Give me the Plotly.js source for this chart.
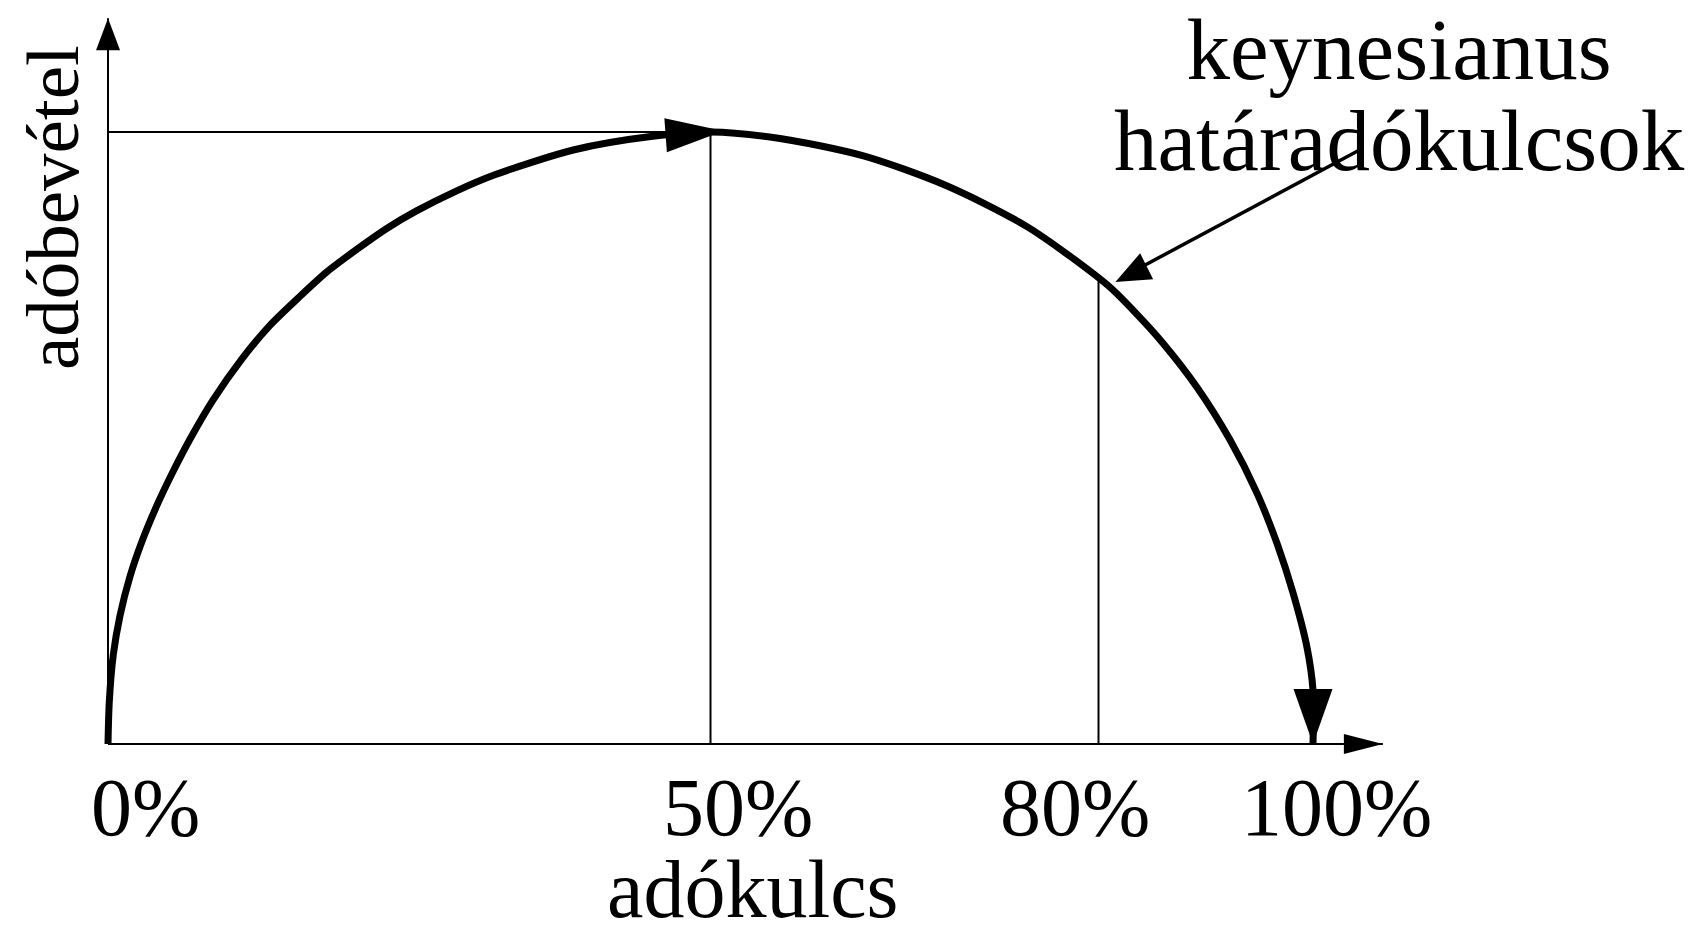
<!DOCTYPE html>
<html>
<head>
<meta charset="utf-8">
<script src="https://cdn.plot.ly/plotly-3.0.1.min.js"></script>
<style>html,body{margin:0;padding:0;overflow:hidden;background:#fff}</style>
</head>
<body>
<div id="chart" style="width:1707px;height:934px"></div>
<script>
// ---- data (tax rate %, tax revenue index) ----
const taxRate = [0, 0.11, 0.44, 1.0, 1.83, 2.8, 4.04, 5.42, 6.8, 8.71, 11.1, 13.44, 15.8, 18.2, 20.7, 23.1, 25.6, 28.85, 32.1, 38.7, 45.2, 50,
                 55.9, 62.7, 69.5, 76.3, 83.0, 85.06, 87.55, 90.37, 93.11, 95.35, 97.01, 98.34, 99.5, 100, 100];
const revenue = [0, 7.0, 14.6, 21.0, 27.4, 33.0, 38.9, 44.6, 49.8, 56.2, 62.9, 68.4, 72.9, 77.2, 80.9, 84.2, 87.1, 90.3, 93.0, 97.1, 99.3, 100,
                 98.9, 96.1, 91.3, 84.5, 74.9, 70.9, 65.5, 58.3, 49.7, 41.0, 32.8, 24.7, 15.8, 8.8, 0];
const peakPoint = [50, 100];          // revenue-maximising rate
const keynesPoint = [82.2, 75.6];     // keynesian marginal rate on the curve
const tickLabels = ['0%', '50%', '80%', '100%'];
const xTitle = 'adókulcs';
const yTitle = 'adóbevétel';
const noteLines = ['keynesianus', 'határadókulcsok'];

// ---- layout geometry ----
const W = 1707, H = 934;
const xRange = [-8.963, 132.697];
const yRange = [-31.046, 121.569];
const kx = W / (xRange[1] - xRange[0]);
const ky = H / (yRange[1] - yRange[0]);
const axisTip = {x: 105.8, y: 118.6};
const noteTail = [103.9, 97.1];
const tickLabelPx = [145, 738, 1075, 1336];
const tickLabelPy = 807;
const FONT = "'Liberation Serif', 'Times New Roman', serif";

function arrowHead(xd, yd, dx, dy, len, wid, adv) {
  let ux = dx * kx, uy = dy * ky;
  const n = Math.hypot(ux, uy); ux /= n; uy /= n;
  const a = adv || 0;
  const tx = a * ux, ty = a * uy;
  const bx = tx - len * ux, by = ty - len * uy;
  const px = -uy * wid / 2, py = ux * wid / 2;
  const f = v => v.toFixed(2);
  return {
    type: 'path', xref: 'x', yref: 'y', xsizemode: 'pixel', ysizemode: 'pixel',
    xanchor: xd, yanchor: yd,
    path: `M${f(tx)},${f(ty)} L${f(bx + px)},${f(by + py)} L${f(bx - px)},${f(by - py)} Z`,
    fillcolor: '#000', line: {width: 0}, layer: 'above'
  };
}

const thin = {color: '#000', width: 2};
const pk = taxRate.indexOf(peakPoint[0]);
const last = taxRate.length - 1;

const shapes = [
  // axes
  {type: 'line', x0: 0, y0: 0, x1: axisTip.x, y1: 0, line: thin},
  {type: 'line', x0: 0, y0: 0, x1: 0, y1: axisTip.y, line: thin},
  arrowHead(axisTip.x, 0, 1, 0, 39, 20),
  arrowHead(0, axisTip.y, 0, 1, 32, 24),
  // guide lines
  {type: 'line', x0: 0, y0: peakPoint[1], x1: peakPoint[0], y1: peakPoint[1], line: thin},
  {type: 'line', x0: peakPoint[0], y0: 0, x1: peakPoint[0], y1: peakPoint[1], line: thin},
  {type: 'line', x0: keynesPoint[0], y0: 0, x1: keynesPoint[0], y1: keynesPoint[1], line: thin},
  // curve arrowheads
  arrowHead(taxRate[pk], revenue[pk], taxRate[pk] - taxRate[pk - 1], revenue[pk] - revenue[pk - 1], 58, 34, 13),
  arrowHead(taxRate[last], revenue[last], taxRate[last] - taxRate[last - 1], revenue[last] - revenue[last - 1], 55, 39),
  // pointer to keynesian rate
  {type: 'line', x0: noteTail[0], y0: noteTail[1], x1: keynesPoint[0] + 2.2, y1: keynesPoint[1] + 0.9, line: {color: '#000', width: 3.5}},
  arrowHead(keynesPoint[0] + 1.4, keynesPoint[1] - 0.1, keynesPoint[0] - noteTail[0], keynesPoint[1] - noteTail[1], 35, 29)
];

const ann = [];
tickLabels.forEach((t, i) => ann.push({
  text: t, xref: 'paper', yref: 'paper', x: tickLabelPx[i] / W, y: 1 - tickLabelPy / H,
  xanchor: 'center', yanchor: 'middle', showarrow: false, font: {family: FONT, size: 82, color: '#000'}
}));
ann.push({text: xTitle, xref: 'paper', yref: 'paper', x: 752 / W, y: 1 - 889 / H,
  xanchor: 'center', yanchor: 'middle', showarrow: false, font: {family: FONT, size: 82, color: '#000'}});
ann.push({text: yTitle, xref: 'paper', yref: 'paper', x: 52 / W, y: 1 - 208 / H, textangle: -90,
  xanchor: 'center', yanchor: 'middle', showarrow: false, font: {family: FONT, size: 75, color: '#000'}});
ann.push({
  text: noteLines.map(l => '<span style="font-size:87px">' + l + '</span>').join('<br>'),
  xref: 'paper', yref: 'paper', x: 1399 / W, y: 1, align: 'center', borderpad: 0,
  xanchor: 'center', yanchor: 'top', showarrow: false, font: {family: FONT, size: 70, color: '#000'}
});

const traces = [{
  x: taxRate, y: revenue, type: 'scatter', mode: 'lines',
  line: {color: '#000', width: 7, shape: 'spline', smoothing: 0.8},
  hoverinfo: 'skip', cliponaxis: false
}];

const layout = {
  width: W, height: H, autosize: false,
  margin: {l: 0, r: 0, t: 0, b: 0, pad: 0},
  paper_bgcolor: '#fff', plot_bgcolor: '#fff',
  showlegend: false,
  xaxis: {range: xRange, visible: false, fixedrange: true},
  yaxis: {range: yRange, visible: false, fixedrange: true},
  shapes: shapes, annotations: ann
};

Plotly.newPlot('chart', traces, layout, {displayModeBar: false, staticPlot: true});
</script>
</body>
</html>
